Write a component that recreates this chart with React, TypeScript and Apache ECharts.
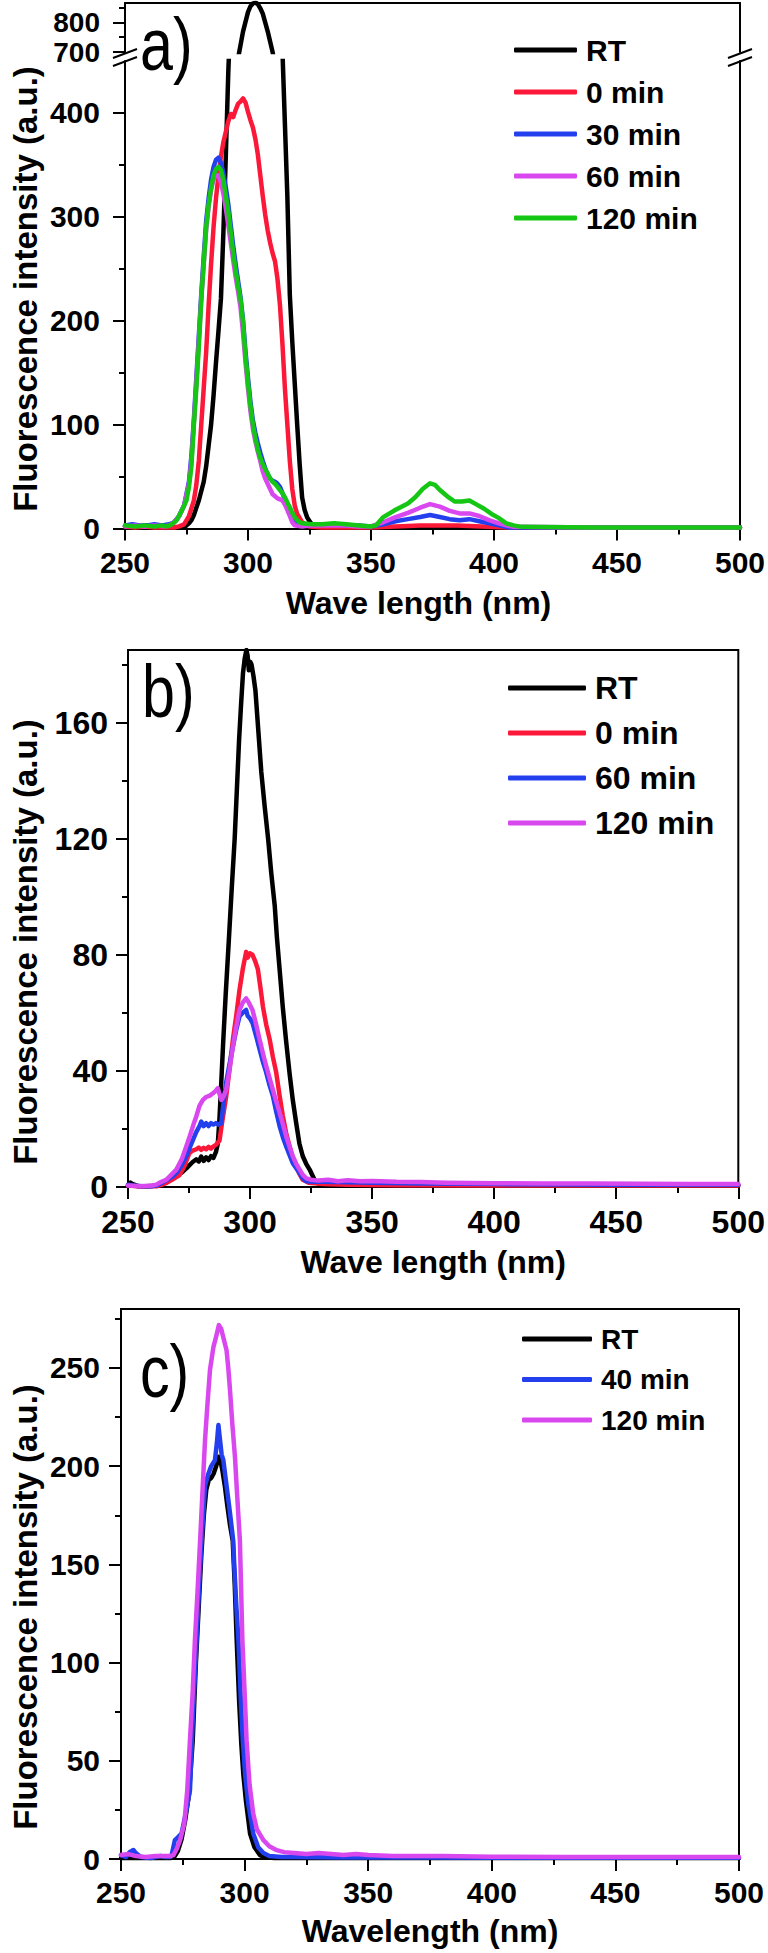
import React, { useEffect, useRef } from "react";
import * as echarts from "echarts";

// ---------------- DATA ----------------
// Panel a) wavelength (nm), intensity (a.u.)
const aRT: [number, number][] = [
  [250, 2], [253, 3], [256, 2], [259, 3], [262, 2], [265, 3], [268, 2], [271, 1], [274, 1], [276, 5], [277, 8],
  [278, 13], [280, 27], [282, 45], [283, 60], [284, 80], [285, 100], [286, 128], [287, 160], [288, 190], [289, 221],
  [290, 285], [291, 360], [292, 440], [293, 500], [294, 560], [296, 680], [298, 770], [300, 835], [301, 855],
  [302, 864], [303, 868], [304, 862], [305, 848], [306, 830], [308, 770], [310, 700], [311, 650], [312, 600],
  [313, 530], [314, 460], [315, 390], [316, 320], [317, 225], [318, 180], [319, 140], [320, 100], [321, 62],
  [322, 30], [323, 18], [324, 11], [325, 7], [326, 4], [328, 2], [332, 1], [340, 1], [360, 1], [380, 1], [400, 1],
  [420, 1], [450, 1], [480, 1], [500, 1],
];
const a0min: [number, number][] = [
  [250, 2], [254, 1], [258, 2], [262, 1], [266, 1], [270, 1], [272, 2], [274, 4], [276, 12], [278, 27], [279, 42],
  [280, 65], [281, 100], [282, 135], [283, 170], [284, 215], [285, 255], [286, 290], [287, 318], [288, 340],
  [289, 358], [290, 372], [291, 382], [292, 392], [293, 399], [294, 396], [295, 403], [296, 409], [297, 411],
  [298, 414], [299, 410], [300, 401], [301, 393], [302, 386], [303, 375], [304, 360], [305, 340], [306, 320],
  [307, 302], [308, 287], [309, 275], [310, 265], [311, 257], [312, 240], [313, 215], [314, 178], [315, 135],
  [316, 100], [317, 65], [318, 38], [319, 22], [320, 14], [322, 6], [325, 2], [330, 1], [340, 1], [350, 1],
  [360, 2], [370, 3], [375, 3], [385, 3], [395, 2], [405, 1], [420, 1], [450, 1], [480, 1], [500, 1],
];
const a30min: [number, number][] = [
  [250, 3], [253, 4], [256, 3], [259, 3], [262, 4], [265, 3], [268, 4], [270, 6], [272, 12], [274, 22], [276, 45],
  [277, 70], [278, 105], [279, 145], [280, 185], [281, 225], [282, 262], [283, 296], [284, 318], [285, 336],
  [286, 348], [287, 355], [288, 357], [289, 352], [290, 342], [291, 328], [292, 312], [293, 292], [294, 272],
  [295, 254], [296, 238], [297, 222], [298, 200], [299, 170], [300, 145], [301, 122], [302, 104], [303, 92],
  [304, 82], [305, 73], [306, 65], [307, 58], [308, 52], [309, 48], [310, 46], [311, 45], [312, 43], [313, 40],
  [314, 34], [315, 28], [316, 24], [317, 20], [318, 14], [319, 9], [320, 5], [322, 3], [326, 4], [330, 4],
  [335, 4], [340, 3], [345, 3], [350, 2], [355, 4], [360, 7], [365, 9], [370, 11], [374, 13], [378, 11],
  [382, 9], [386, 8], [390, 9], [394, 7], [398, 5], [402, 3], [406, 1], [410, 1], [420, 1], [440, 1], [460, 1],
  [480, 1], [500, 1],
];
const a60min: [number, number][] = [
  [250, 2], [254, 3], [258, 2], [262, 3], [266, 2], [268, 3], [270, 6], [272, 12], [274, 22], [276, 43],
  [277, 65], [278, 102], [279, 140], [280, 180], [281, 220], [282, 255], [283, 288], [284, 310], [285, 326],
  [286, 336], [287, 340], [288, 340], [289, 333], [290, 322], [291, 308], [292, 292], [293, 275], [294, 258],
  [295, 242], [296, 228], [297, 212], [298, 188], [299, 160], [300, 135], [301, 113], [302, 96], [303, 84],
  [304, 74], [305, 65], [306, 55], [307, 48], [308, 43], [309, 38], [310, 33], [311, 31], [312, 29], [313, 28],
  [314, 27], [315, 23], [316, 18], [317, 12], [318, 6], [319, 3], [322, 2], [326, 3], [330, 3], [335, 3],
  [340, 3], [345, 2], [350, 2], [355, 6], [360, 11], [365, 15], [370, 20], [374, 23.5], [378, 21], [382, 17],
  [386, 14.5], [390, 14.5], [394, 12], [398, 8], [402, 5], [405, 3], [408, 1.6], [420, 1.5], [440, 1],
  [460, 1], [480, 1], [500, 1],
];
const a120min: [number, number][] = [
  [250, 3], [254, 2], [258, 3], [262, 2], [265, 3], [267, 2], [269, 4], [271, 8], [273, 17], [275, 27], [276, 40],
  [277, 60], [278, 100], [279, 135], [280, 175], [281, 221], [282, 255], [283, 290], [284, 312], [285, 328],
  [286, 340], [287, 346], [288, 348], [289, 345], [290, 335], [291, 320], [292, 305], [293, 285], [294, 265],
  [295, 248], [296, 233], [297, 220], [298, 198], [299, 165], [300, 140], [301, 118], [302, 100], [303, 87],
  [304, 76], [305, 68], [306, 62], [307, 57], [308, 53], [309, 48], [310, 45], [311, 43], [312, 40], [313, 37],
  [314, 34], [315, 30], [316, 25], [317, 20], [318, 15], [319, 11], [320, 8], [321, 6], [322, 5], [326, 4],
  [330, 4], [335, 5], [340, 4], [345, 3], [350, 2], [352, 3], [355, 11], [360, 18], [365, 24], [368, 30],
  [371, 38], [374, 43.5], [376, 42], [378, 37], [381, 31], [384, 26], [387, 26], [390, 27], [393, 23],
  [396, 19], [399, 14], [402, 10], [405, 5], [408, 3], [411, 1.6], [420, 1.5], [440, 1], [460, 1], [480, 1],
  [500, 1],
];

// Panel b)
const bRT: [number, number][] = [
  [250, 0.5], [251, 1.5], [252, 1], [254, 0.3], [258, 0.3], [262, 0.5], [264, 1], [266, 2], [268, 3], [270, 4],
  [272, 5], [274, 6.5], [276.6, 8.7], [278, 9.5], [279, 8.8], [280, 10.5], [281, 9], [282, 10.2], [283, 9.3],
  [284, 10.6], [285, 10], [286, 12], [286.8, 15], [287.5, 24], [288.2, 36], [289, 50], [290, 66], [291.3, 85],
  [292.5, 103], [293.7, 120], [294.6, 137], [295.5, 154], [296.3, 166], [297.1, 177], [297.8, 182], [298.5, 185],
  [299, 183], [299.5, 178], [300, 181], [300.6, 180], [301.4, 176], [302.2, 171], [303.4, 157], [304.6, 143],
  [306, 131], [307.4, 120], [308.7, 108], [310.1, 97], [311, 86], [312, 76], [313.4, 62], [314.8, 50],
  [316.2, 39], [317.5, 30], [318.9, 22], [320.2, 15], [321.6, 10.6], [323, 8], [324.4, 6], [326.4, 2.5],
  [328, 1.2], [332, 0.8], [340, 0.6], [360, 0.5], [400, 0.5], [450, 0.5], [500, 0.5],
];
const b0min: [number, number][] = [
  [250, 0.5], [254, 0.3], [258, 0.3], [262, 0.3], [264, 0.8], [266, 1.5], [268, 2.5], [271, 4], [273, 7],
  [275.2, 11.8], [276.5, 12.5], [278, 13], [279, 13.6], [280, 12.8], [281, 13.5], [282, 13], [283, 13.8],
  [284, 13.2], [285, 14], [286, 14.5], [287.5, 16], [288.5, 22], [290.2, 31], [291.5, 40], [293, 51],
  [294.5, 60], [295.7, 68], [297, 75], [298.4, 81], [299, 79], [300, 80.5], [301, 80], [302, 78], [303.2, 75],
  [304.2, 69], [305.3, 62], [306.6, 56], [308, 51], [309.3, 45], [310.7, 39.5], [312, 32], [313.4, 24.6],
  [314.8, 18.5], [316.2, 14], [317.5, 10], [318.9, 7], [320.2, 4.5], [321.6, 2.5], [324, 1.5], [330, 1],
  [340, 0.8], [360, 0.6], [400, 0.5], [450, 0.5], [500, 0.5],
];
const b60min: [number, number][] = [
  [250, 0.8], [252, 0.5], [256, 0.3], [260, 0.3], [261.6, 0.5], [264, 1.5], [266, 2.5], [268.4, 3.7], [270, 5],
  [272, 7.5], [273.9, 10.6], [275.5, 14], [277, 17], [278, 19], [279.3, 21], [280, 22.5], [281, 21], [282, 22],
  [283, 21], [284, 22], [285, 21.5], [286, 22], [287, 21.5], [288.2, 22], [289, 28], [290.2, 36], [291.5, 42],
  [293, 48.5], [294.3, 54], [295.7, 58.8], [297, 60], [298.4, 61], [299, 59], [300, 58], [301, 56.5],
  [302.5, 52], [303.9, 47.5], [305.3, 43], [306.6, 39.5], [308, 35], [309.3, 31.5], [310.7, 26], [312.1, 21],
  [313.5, 17], [314.8, 14], [316.2, 11], [317.5, 8.2], [318.9, 6.5], [320.3, 4.8], [321.6, 3], [323, 2],
  [326, 1.8], [330, 1.8], [340, 1.6], [350, 1.5], [370, 1.2], [400, 1], [450, 0.8], [500, 0.8],
];
const b120min: [number, number][] = [
  [250, 0.5], [255, 0.3], [260, 0.5], [261.6, 0.8], [263, 1.5], [265.7, 2.5], [267.5, 4], [269.8, 6], [272, 9.5],
  [273.9, 14], [275.5, 18], [277, 22], [278, 24.4], [279.3, 28], [280.7, 30], [282, 31], [283.5, 31.5],
  [284.8, 32.3], [285.8, 33], [286.8, 34], [287.5, 32], [288.2, 30], [289, 31], [290.2, 33.4], [291.5, 40],
  [293, 48.5], [294.3, 55], [295.7, 61], [297, 63.5], [298.4, 65], [299.5, 63.5], [301, 61], [302.5, 56],
  [303.9, 50.8], [305.3, 46], [306.6, 41.7], [308, 37.5], [309.3, 33.6], [310.7, 29.5], [312.1, 25.6],
  [313.5, 21.5], [314.8, 17.5], [316.2, 13.8], [317.5, 10.6], [318.9, 8], [320.3, 6], [321.6, 4.2], [323, 3],
  [325, 2.5], [328, 2.2], [332, 2.5], [336, 2], [340, 2.3], [345, 2], [350, 2.1], [360, 1.8], [370, 1.7],
  [380, 1.5], [390, 1.4], [400, 1.3], [420, 1.2], [440, 1.2], [460, 1.1], [480, 1], [500, 1],
];

// Panel c)
const cRT: [number, number][] = [
  [250, 0.5], [255, 0.5], [260, 0.5], [265, 0.5], [270, 0.5], [271.5, 1], [273, 4], [274.5, 10], [276, 20],
  [277.5, 33], [279, 60], [280.3, 100], [281.5, 130], [282.5, 155], [283.5, 175], [284.5, 188], [285.5, 193],
  [286.5, 194], [287.4, 196], [288.5, 200], [289.4, 204.8], [290.2, 203], [291, 198], [292, 190], [293, 180],
  [294.1, 170], [295.2, 162], [296, 140], [296.8, 111.5], [297.8, 80], [298.7, 58], [299.5, 43], [300.5, 30],
  [302.2, 13], [304, 6], [306.2, 2], [308, 1], [312, 0.5], [330, 0.5], [400, 0.5], [500, 0.5],
];
const c40min: [number, number][] = [
  [250, 2], [252, 1], [253.5, 3.5], [255, 4.6], [256, 3], [258, 1], [262, 0.5], [266, 1.5], [268, 1], [270, 1],
  [270.5, 2], [271.8, 9.6], [273, 11], [274.5, 13], [276, 22], [277.9, 35], [279, 70], [280.6, 111.5],
  [281.5, 136], [282.6, 162], [284, 190], [285.3, 196], [286.5, 200], [288, 203], [288.8, 212], [289.4, 220.9],
  [290, 214], [290.7, 206], [291.4, 203], [292.5, 192], [293.4, 183], [294.1, 176], [295.4, 162], [295.8, 150],
  [296.6, 130], [297.5, 111.5], [298.5, 80], [299.3, 60], [300.2, 43], [301.5, 28], [303.5, 13], [305.5, 6],
  [307.6, 3], [310, 1.5], [315, 1], [320, 1], [340, 0.8], [370, 0.8], [400, 0.7], [450, 0.7], [500, 0.7],
];
const c120min: [number, number][] = [
  [250, 2], [253, 2.5], [256, 1.5], [260, 1], [264, 1.5], [267, 1.5], [270, 1.5], [271.2, 2], [272.5, 5],
  [273.9, 9.6], [275.6, 18], [276.8, 35], [277.9, 60.5], [279, 85], [279.9, 111.5], [281, 137], [282, 162],
  [283, 188], [284, 213.5], [285, 232], [286, 249], [287.4, 260.7], [288.5, 266], [289.6, 271.8], [290.5, 270],
  [291.5, 265], [292.7, 259], [293.4, 250], [294.1, 238.7], [295, 222], [296.1, 204.7], [297, 185],
  [298.1, 162], [299.1, 111.5], [300, 85], [300.8, 60.5], [302, 38], [303.5, 23], [305, 15], [307.6, 9.6],
  [310, 6.5], [313, 4.5], [316, 3.5], [320, 3], [325, 2.5], [330, 3], [335, 2.5], [340, 2], [345, 2.5],
  [350, 2], [360, 1.5], [380, 1.5], [400, 1.2], [430, 1], [460, 1], [500, 1],
];

// Tick values
const xTicks = [250, 300, 350, 400, 450, 500];
const aTopTicks = [700, 800];
const aTopMinor = [750, 850];
const aTicks = [0, 100, 200, 300, 400];
const aMinor = [50, 150, 250, 350];
const bTicks = [0, 40, 80, 120, 160];
const bMinor = [20, 60, 100, 140, 180];
const cTicks = [0, 50, 100, 150, 200, 250];
const cMinor = [25, 75, 125, 175, 225, 275];

const COLORS = {
  black: "#000000",
  red: "#fb1838",
  blue: "#2440ee",
  magenta: "#d947ef",
  green: "#16c614",
};

const FONT = "'Liberation Sans', Arial, Helvetica, sans-serif";

export default function App() {
  const ref = useRef<HTMLDivElement>(null);

  useEffect(() => {
    if (!ref.current) return;
    const chart = echarts.init(ref.current, null, { renderer: "svg" });

    const LW = 4.5;
    const line = (name: string, data: [number, number][], color: string, xi: number, yi: number) => ({
      type: "line",
      name,
      data,
      xAxisIndex: xi,
      yAxisIndex: yi,
      showSymbol: false,
      symbol: "none",
      clip: true,
      lineStyle: { color, width: LW, join: "round", cap: "round" },
      itemStyle: { color },
      emphasis: { disabled: true },
    });

    const axisLineStyle = { color: "#000", width: 2 };

    const xAxisMain = (
      grid: number,
      name: string,
      fontSize: number,
      labelMargin: number,
      nameGap: number,
      namePad: number[]
    ) => ({
      type: "value",
      gridIndex: grid,
      position: "bottom",
      min: 250,
      max: 500,
      interval: 50,
      axisLine: { show: true, onZero: false, lineStyle: axisLineStyle },
      axisTick: { show: true, length: 12, lineStyle: axisLineStyle, customValues: xTicks },
      minorTick: { show: true, splitNumber: 2, length: 6, lineStyle: axisLineStyle },
      axisLabel: {
        show: true,
        customValues: xTicks,
        showMinLabel: true,
        showMaxLabel: true,
        hideOverlap: false,
        margin: labelMargin,
        color: "#000",
        fontSize,
        fontWeight: "bold",
        fontFamily: FONT,
      },
      splitLine: { show: false },
      name,
      nameLocation: "middle",
      nameGap,
      nameTextStyle: { color: "#000", fontSize: 32, fontWeight: "bold", fontFamily: FONT, padding: namePad },
    });

    const yMain = (
      grid: number,
      min: number,
      max: number,
      ticks: number[],
      fontSize: number,
      margin: number,
      lineHeight?: number
    ) => ({
      type: "value",
      gridIndex: grid,
      position: "left",
      min,
      max,
      axisLine: { show: true, onZero: false, lineStyle: axisLineStyle },
      axisTick: { show: true, length: 12, lineStyle: axisLineStyle, customValues: ticks },
      axisLabel: {
        show: true,
        customValues: ticks,
        showMinLabel: true,
        showMaxLabel: true,
        hideOverlap: false,
        margin,
        color: "#000",
        fontSize,
        lineHeight: lineHeight ?? fontSize,
        fontWeight: "bold",
        fontFamily: FONT,
      },
      splitLine: { show: false },
    });
    const yMinor = (grid: number, min: number, max: number, ticks: number[]) => ({
      type: "value",
      gridIndex: grid,
      position: "left",
      min,
      max,
      axisLine: { show: false, onZero: false },
      axisTick: { show: true, length: 6, lineStyle: axisLineStyle, customValues: ticks },
      axisLabel: { show: false },
      splitLine: { show: false },
    });
    const yRight = (grid: number, min: number, max: number) => ({
      type: "value",
      gridIndex: grid,
      position: "right",
      min,
      max,
      axisLine: { show: true, onZero: false, lineStyle: axisLineStyle },
      axisTick: { show: false },
      axisLabel: { show: false },
      splitLine: { show: false },
    });

    const legend = (
      names: string[],
      colors: string[],
      left: number,
      top: number,
      itemWidth: number,
      fontSize: number,
      itemGap: number
    ) => ({
      orient: "vertical",
      left,
      top,
      padding: 0,
      itemWidth,
      itemHeight: 5,
      itemGap,
      icon: "roundRect",
      selectedMode: false,
      data: names.map((n, i) => ({ name: n, itemStyle: { color: colors[i] } })),
      formatter: (n: string) => n.split("|")[1],
      textStyle: {
        color: "#000",
        fontSize,
        fontWeight: "bold",
        fontFamily: FONT,
        padding: [0, 0, 0, 4],
      },
    });

    const yTitle = (y: number) => ({
      type: "text",
      x: 25,
      y,
      rotation: Math.PI / 2,
      style: {
        text: "Fluorescence intensity (a.u.)",
        font: `bold 33px ${FONT}`,
        fill: "#000",
        align: "center",
        verticalAlign: "middle",
      },
    });
    const panelLabel = (text: string, x: number, y: number) => ({
      type: "text",
      x,
      y,
      scaleX: 0.8,
      style: {
        text,
        font: `normal 74px ${FONT}`,
        fill: "#000",
        align: "left",
        verticalAlign: "middle",
      },
    });
    const breakMark = (x: number, y: number) => ({
      type: "group",
      x,
      y,
      children: [
        {
          type: "polygon",
          shape: { points: [[-12, 4], [12, -5], [12, 3], [-12, 12]] },
          style: { fill: "#fff", stroke: null },
        },
        {
          type: "line",
          shape: { x1: -12, y1: 4, x2: 12, y2: -5 },
          style: { stroke: "#000", lineWidth: 2 },
        },
        {
          type: "line",
          shape: { x1: -12, y1: 12, x2: 12, y2: 3 },
          style: { stroke: "#000", lineWidth: 2 },
        },
      ],
    });

    const option: any = {
      animation: false,
      backgroundColor: "#fff",
      grid: [
        { left: 125, width: 615, top: 3, height: 49, containLabel: false },
        { left: 125, width: 615, top: 61, height: 467.5, containLabel: false },
        { left: 128, width: 611, top: 650, height: 537, show: true, borderColor: "#000", borderWidth: 2 },
        { left: 121, width: 618, top: 1309, height: 550, show: true, borderColor: "#000", borderWidth: 2 },
      ],
      xAxis: [
        {
          type: "value",
          gridIndex: 0,
          position: "top",
          min: 250,
          max: 500,
          axisLine: { show: true, onZero: false, lineStyle: axisLineStyle },
          axisTick: { show: false },
          axisLabel: { show: false },
          splitLine: { show: false },
        },
        xAxisMain(1, "Wave length (nm)", 30, 19, 58, [0, 28, 0, 0]),
        xAxisMain(2, "Wave length (nm)", 32, 19, 59, [0, 0, 0, 0]),
        xAxisMain(3, "Wavelength (nm)", 30, 18, 56, [0, 0, 0, 0]),
      ],
      yAxis: [
        yMain(0, 700, 866, aTopTicks, 28, 25, 18),
        yMinor(0, 700, 866, aTopMinor),
        yRight(0, 700, 866),
        yMain(1, 0, 450, aTicks, 30, 25),
        yMinor(1, 0, 450, aMinor),
        yRight(1, 0, 450),
        yMain(2, 0, 185, bTicks, 32, 20),
        yMinor(2, 0, 185, bMinor),
        yMain(3, 0, 280, cTicks, 30, 21),
        yMinor(3, 0, 280, cMinor),
      ],
      legend: [
        legend(
          ["a|RT", "a|0 min", "a|30 min", "a|60 min", "a|120 min"],
          [COLORS.black, COLORS.red, COLORS.blue, COLORS.magenta, COLORS.green],
          514, 35, 63, 30, 12
        ),
        legend(
          ["b|RT", "b|0 min", "b|60 min", "b|120 min"],
          [COLORS.black, COLORS.red, COLORS.blue, COLORS.magenta],
          508, 672, 78, 32, 13
        ),
        legend(
          ["c|RT", "c|40 min", "c|120 min"],
          [COLORS.black, COLORS.blue, COLORS.magenta],
          522, 1325, 70, 28, 12.5
        ),
      ],
      series: [
        line("a|RT (top)", aRT, COLORS.black, 0, 0),
        line("a|RT", aRT, COLORS.black, 1, 3),
        line("a|0 min", a0min, COLORS.red, 1, 3),
        line("a|30 min", a30min, COLORS.blue, 1, 3),
        line("a|60 min", a60min, COLORS.magenta, 1, 3),
        line("a|120 min", a120min, COLORS.green, 1, 3),
        line("b|RT", bRT, COLORS.black, 2, 6),
        line("b|0 min", b0min, COLORS.red, 2, 6),
        line("b|60 min", b60min, COLORS.blue, 2, 6),
        line("b|120 min", b120min, COLORS.magenta, 2, 6),
        line("c|RT", cRT, COLORS.black, 3, 8),
        line("c|40 min", c40min, COLORS.blue, 3, 8),
        line("c|120 min", c120min, COLORS.magenta, 3, 8),
      ],
      graphic: [
        yTitle(289),
        yTitle(942),
        yTitle(1607),
        panelLabel("a)", 140, 44),
        panelLabel("b)", 142, 691),
        panelLabel("c)", 140, 1371),
        breakMark(125, 54),
        breakMark(740, 54),
      ],
    };

    chart.setOption(option);
    return () => chart.dispose();
  }, []);

  return (
    <div
      ref={ref}
      style={{ position: "absolute", left: 0, top: 0, width: 768, height: 1953, background: "#fff" }}
    />
  );
}
